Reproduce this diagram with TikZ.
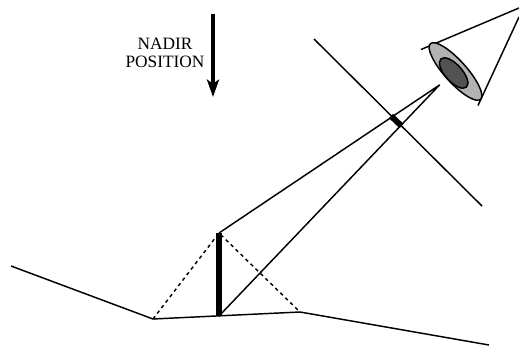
\documentclass[tikz,border=0pt]{standalone}
\usepackage{fontspec}
\setmainfont{Liberation Serif}
\usetikzlibrary{arrows.meta}
\tikzset{x=0.75pt,y=-0.75pt,
 ln/.style={line width=1.1pt,black,line join=round},
 thickbar/.style={line width=4.4pt,black},
 dots/.style={line width=1.1pt,black,line join=round,dash pattern=on 2.6pt off 2.6pt},
 lab/.style={font=\fontsize{13pt}{13.5pt}\selectfont,align=center,inner sep=0pt}}
\begin{document}
\begin{tikzpicture}
\useasboundingbox (0,0) rectangle (519,347);
\coordinate (g1) at (11,266);
\coordinate (g2) at (153,319);
\coordinate (g3) at (300,312);
\coordinate (g4) at (489,345);
\coordinate (top) at (219,233);
\coordinate (foot) at (219,316);
\coordinate (apex) at (439.5,85);
\coordinate (c1) at (314,39);
\coordinate (c2) at (482,206);
\coordinate (b1) at (391,116);
\coordinate (b2) at (401.5,126);
\coordinate (n1) at (213,14);
\coordinate (n2) at (213,97);
\coordinate (k1) at (421,49.5);
\coordinate (k2) at (519,8);
\coordinate (k3) at (478,105.5);
\coordinate (k4) at (519,17);
\draw[ln] (g1) -- (g2) -- (g3) -- (g4);
\draw[dots] (g2) -- (top) -- (g3);
\draw[thickbar] (top) -- (foot);
\draw[ln] (top) -- (apex) -- (foot);
\draw[ln] (c1) -- (c2);
\draw[thickbar] (b1) -- (b2);
\draw[ln] (k1) -- (k2);
\draw[ln] (k3) -- (k4);
\draw[line width=1.1pt,fill=black!30] (455.5,71.5) circle[x radius=37.5,y radius=11,rotate=-48];
\draw[line width=1.1pt,fill=black!68] (453.7,73) circle[x radius=19,y radius=8.5,rotate=-48];
\draw[line width=2.6pt,-{Triangle[width=9pt,length=13pt,inset=3pt]}] (n1) -- (n2);
\node[lab] (nadir) at (165,53) {NADIR\\POSITION};
\end{tikzpicture}
\end{document}
